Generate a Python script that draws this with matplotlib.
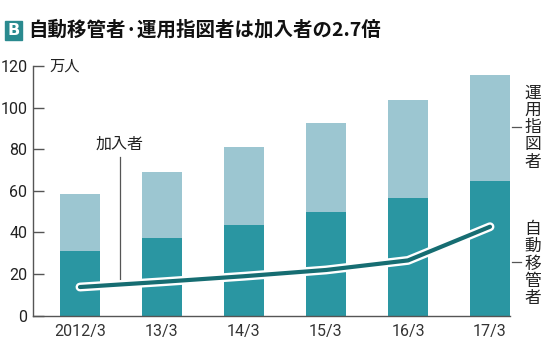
import matplotlib
matplotlib.use("Agg")
import matplotlib.pyplot as plt
import matplotlib.patheffects as pe
from matplotlib.patches import Rectangle

plt.rcParams['font.family'] = ['Roboto', 'Noto Sans CJK JP']

categories = ["2012/3", "13/3", "14/3", "15/3", "16/3", "17/3"]
auto_transfer = [31.2, 37.4, 43.7, 50.0, 56.6, 64.8]      # 自動移管者
total_non_join = [58.6, 69.1, 81.0, 92.6, 103.7, 115.7]   # 自動移管者+運用指図者
members = [13.7, 16.2, 18.9, 21.9, 26.5, 42.7]            # 加入者
yticks = [0, 20, 40, 60, 80, 100, 120]

instructors = [t - a for t, a in zip(total_non_join, auto_transfer)]

dark = "#2a96a2"
light = "#9cc6d1"
line_c = "#166d72"
axis_c = "#555555"

fig = plt.figure(figsize=(5.5, 3.54), dpi=100)
ax = fig.add_axes([0.06, 0.1087, 0.8673, 0.7049])

x = list(range(len(categories)))
ax.bar(x, auto_transfer, width=0.49, color=dark, zorder=2)
ax.bar(x, instructors, bottom=auto_transfer, width=0.49, color=light, zorder=2)

ax.plot(x, members, color=line_c, lw=3.0, solid_capstyle='round', solid_joinstyle='round', zorder=4,
        path_effects=[pe.Stroke(linewidth=6.4, foreground='white'), pe.Normal()])

ax.set_xlim(-0.573, 5.244)
ax.set_ylim(0, 120)
ax.set_yticks(yticks)
ax.set_yticklabels([str(v) for v in yticks], fontsize=11.5, color="#222222")
ax.set_xticks(x)
ax.set_xticklabels(categories, fontsize=11.5, color="#333333")
ax.tick_params(axis='y', direction='in', length=8, width=1, color=axis_c, pad=4)
ax.tick_params(axis='x', length=0, pad=6)
for s in ['top', 'right']:
    ax.spines[s].set_visible(False)
for s in ['left', 'bottom']:
    ax.spines[s].set_color(axis_c)
    ax.spines[s].set_linewidth(1)
ax.spines['left'].set_zorder(5)

# unit label
ax.text(0.035, 1.0, "万人", transform=ax.transAxes, fontsize=11, va='center', ha='left',
        family=['Noto Sans CJK JP'], color="#222222")

# 加入者 label with leader
ax.plot([0.488, 0.488], [16.1, 76.2], color=axis_c, lw=0.9, zorder=3)
ax.text(0.488, 82.5, "加入者", fontsize=11.5, ha='center', va='center', family=['Noto Sans CJK JP'], color="#222222")

tr = fig.transFigure
W, H = 550, 354
def fx(px):
    return px / W
def fy(py):
    return 1 - py / H
fig.add_artist(plt.Line2D([fx(512), fx(521)], [fy(127), fy(127)], color=axis_c, lw=0.9))
fig.add_artist(plt.Line2D([fx(512), fx(521)], [fy(262), fy(262)], color=axis_c, lw=0.9))
fig.text(fx(533), fy(127.5), "\n".join("運用指図者"), fontsize=12, ha='center', va='center',
         linespacing=1.02, family=['Noto Sans CJK JP'], color="#222222")
fig.text(fx(533), fy(264), "\n".join("自動移管者"), fontsize=12, ha='center', va='center',
         linespacing=1.02, family=['Noto Sans CJK JP'], color="#222222")

# title
fig.add_artist(Rectangle((fx(5), fy(40)), fx(17), 19 / H, transform=tr, color="#2a8a8f"))
fig.text(fx(13.5), fy(30.5), "B", fontsize=11.5, color='white', ha='center', va='center',
         family=['DejaVu Sans'], fontweight='bold')
fig.text(fx(28), fy(30), "自動移管者·運用指図者は加入者の2.7倍", fontsize=14, fontweight='bold',
         ha='left', va='center', family=['Noto Sans CJK JP', 'DejaVu Sans'], color="#111111")

fig.savefig("out.png", dpi=100)
